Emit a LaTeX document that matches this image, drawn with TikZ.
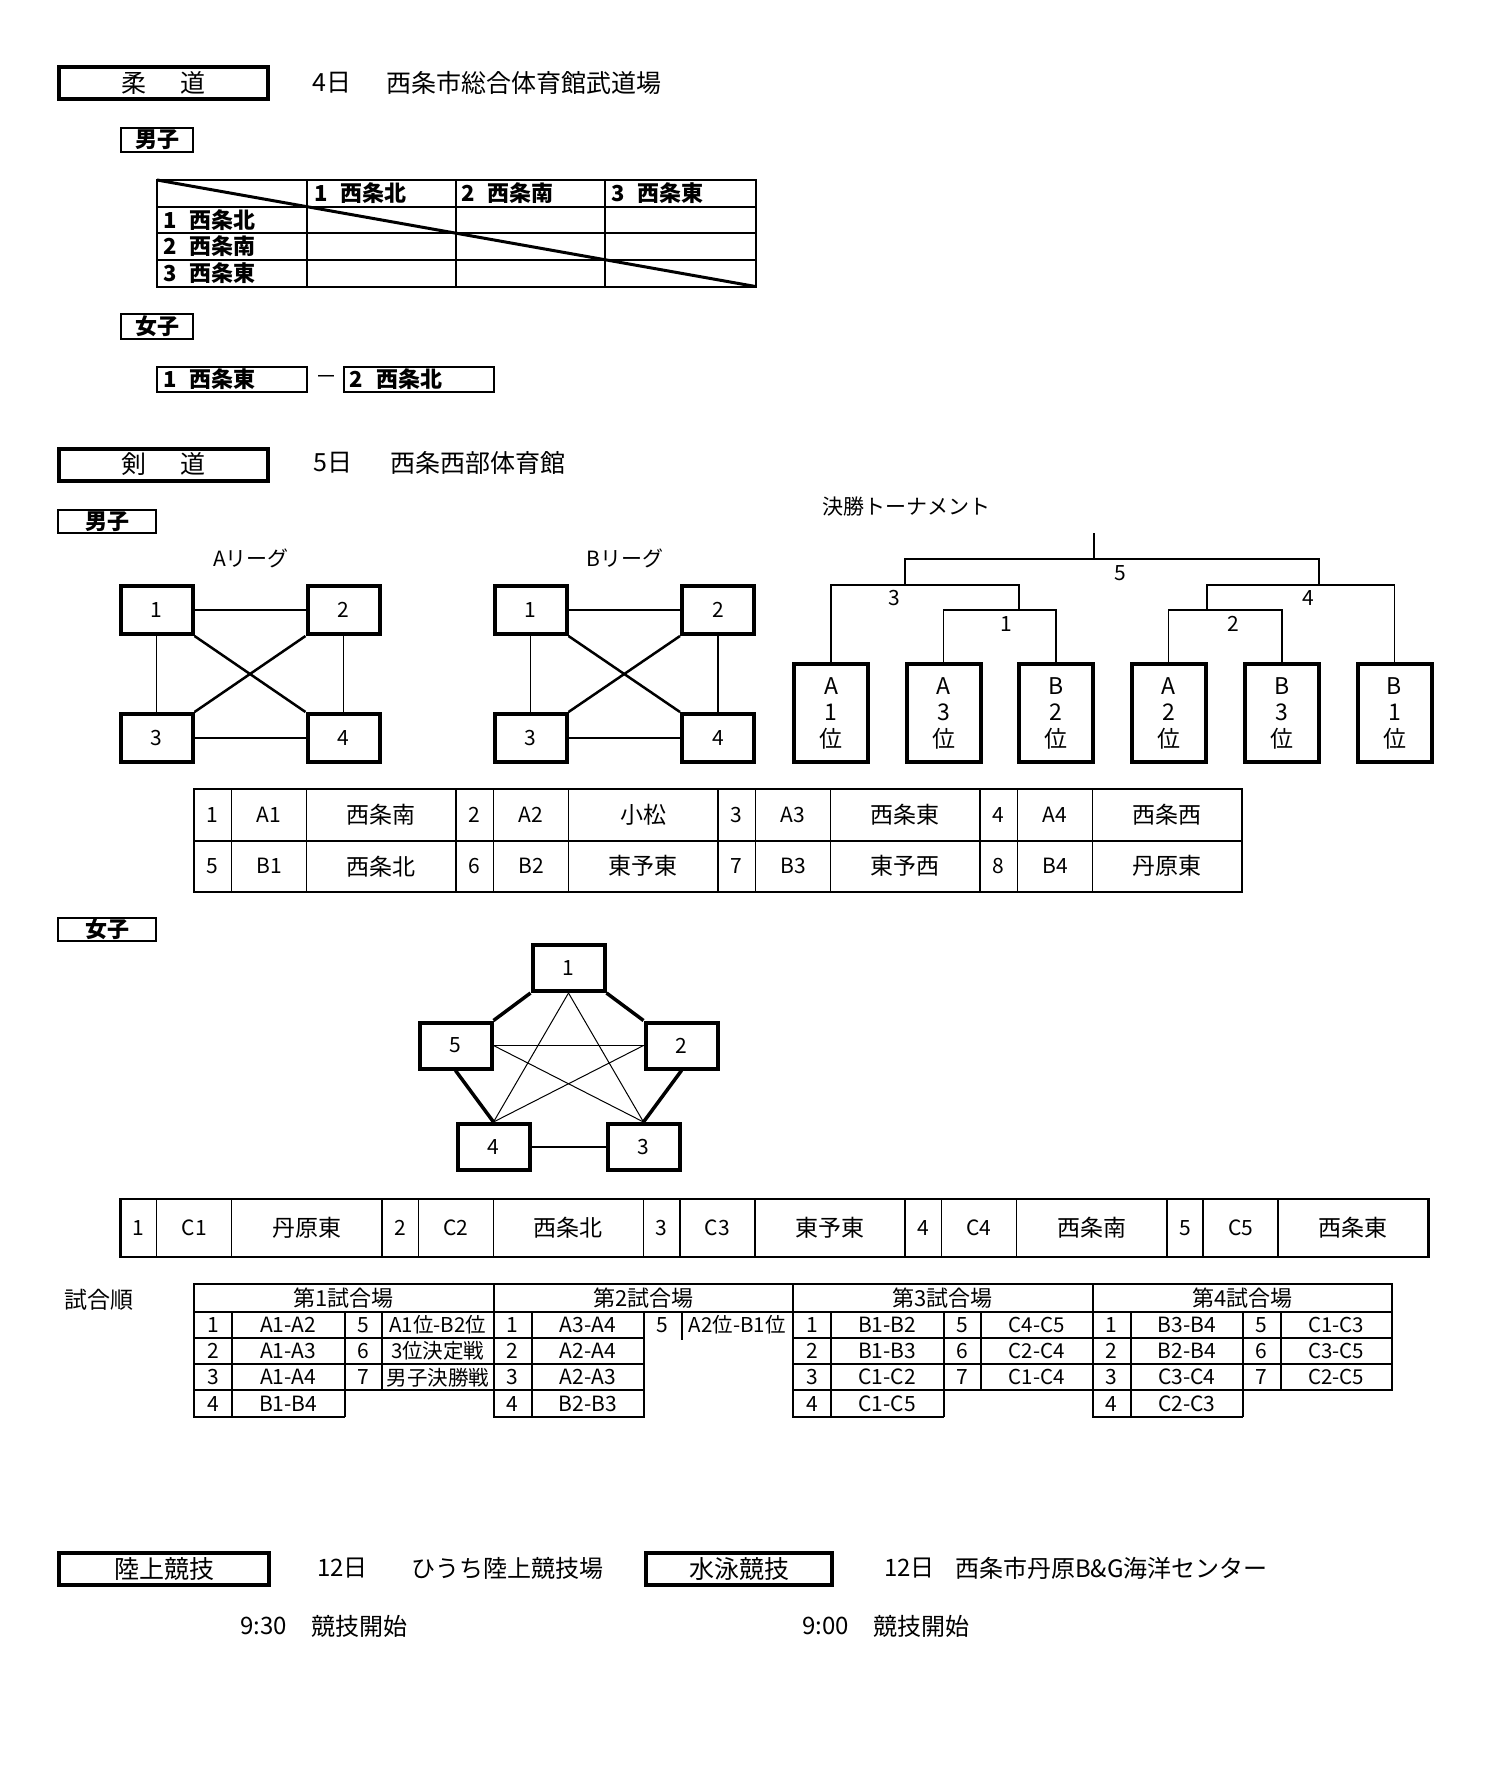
\documentclass[tikz,border=0pt]{standalone}
\usepackage{fontspec}
\setmainfont{Noto Sans CJK JP}
\newcommand\fsz[1]{\fontsize{#1}{#1}\selectfont}
\begin{document}
\begin{tikzpicture}[x=1pt,y=-1pt,
 titlebox/.style={draw,line width=4pt,inner sep=0pt,minimum height=32pt,font=\fsz{25}},
 labelbox/.style={draw,line width=2pt,inner sep=0pt,font=\fsz{22}\bfseries},
 namebox/.style={draw,line width=2pt,inner ysep=0pt,inner xsep=6pt,text width=138pt,align=left,minimum height=25pt,font=\fsz{22}\bfseries},
 lbl/.style={inner sep=0pt},
 teambox/.style={draw,line width=4pt,inner sep=0pt,minimum width=72pt,minimum height=48pt,font=\fsz{21}},
 seedbox/.style={draw,line width=4pt,inner sep=0pt,minimum width=74pt,minimum height=98pt,align=center,font=\fontsize{23}{26.5}\selectfont},
 pentbox/.style={draw,line width=4pt,inner sep=0pt,minimum width=72pt,minimum height=46pt,font=\fsz{21}},
 link/.style={line width=1.5pt},
 cross/.style={line width=2.5pt},
 bracket/.style={line width=1.8pt},
 grid/.style={line width=2pt},
 thinrule/.style={line width=1.5pt},
 outer/.style={line width=2.5pt},
 cell/.style={inner sep=0pt,font=\fsz{21}},
 jcell/.style={inner sep=0pt,anchor=west,font=\fsz{22}\bfseries},
 heavy/.style={line width=3.5pt},
 hair/.style={line width=1pt}
]
\fill[white] (0,0) rectangle (1484,1780);
\useasboundingbox (0,0) rectangle (1484,1780);

% ---------------- Judo ----------------
\node[titlebox,minimum width=209pt] (judo) at (163.5,83) {柔\hspace{34pt}道};
\node[lbl,anchor=west,font=\fsz{25}] (judoday) at (312,83) {4日};
\node[lbl,anchor=west,font=\fsz{25}] (judoplace) at (386,83) {西条市総合体育館武道場};
\node[labelbox,minimum width=72pt,minimum height=24pt] (jmen) at (157,140) {男子};

\draw[grid] (157,180) rectangle (755.5,286.5);
\foreach \xx in {307,455.5,605} \draw[grid] (\xx,180) -- (\xx,286.5);
\foreach \yy in {206.7,232.7,260} \draw[grid] (157,\yy) -- (755.5,\yy);
\draw[line width=3pt] (157,180) -- (755.5,286.5);
\node[jcell] (jh1) at (314,193.3) {1\hspace{.6em}西条北};
\node[jcell] (jh2) at (461,193.3) {2\hspace{.6em}西条南};
\node[jcell] (jh3) at (611,193.3) {3\hspace{.6em}西条東};
\node[jcell] (jr1) at (163,219.7) {1\hspace{.6em}西条北};
\node[jcell] (jr2) at (163,246.3) {2\hspace{.6em}西条南};
\node[jcell] (jr3) at (163,273.2) {3\hspace{.6em}西条東};

\node[labelbox,minimum width=72pt,minimum height=25pt] (jwomen) at (157,326.5) {女子};
\node[namebox] (jw1) at (232,379.5) {1\hspace{.6em}西条東};
\node[namebox] (jw2) at (418.5,379.5) {2\hspace{.6em}西条北};
\node[lbl,font=\fsz{22}] (jdash) at (326.5,379.5) {－};

% ---------------- Kendo ----------------
\node[titlebox,minimum width=209pt] (kendo) at (163.5,464.5) {剣\hspace{34pt}道};
\node[lbl,anchor=west,font=\fsz{25}] (kday) at (313,463) {5日};
\node[lbl,anchor=west,font=\fsz{25}] (kplace) at (390,463) {西条西部体育館};
\node[labelbox,minimum width=98pt,minimum height=23pt] (kmen) at (107,521.5) {男子};

\node[lbl,font=\fsz{21}] (aleague) at (251,558) {Aリーグ};
\node[lbl,font=\fsz{21}] (bleague) at (625,558) {Bリーグ};
\node[teambox] (a1) at (156.5,610) {1};
\node[teambox] (a2) at (343.5,610) {2};
\node[teambox] (a3) at (156.5,738) {3};
\node[teambox] (a4) at (343.5,738) {4};
\node[teambox] (b1) at (530.5,610) {1};
\node[teambox] (b2) at (718,610) {2};
\node[teambox] (b3) at (530.5,738) {3};
\node[teambox] (b4) at (718,738) {4};
\foreach \lg in {a,b}{
 \draw[link] (\lg1) -- (\lg2);
 \draw[link] (\lg1) -- (\lg3);
 \draw[link] (\lg2) -- (\lg4);
 \draw[link] (\lg3) -- (\lg4);
 \draw[cross] (\lg1.south east) -- (\lg4.north west);
 \draw[cross] (\lg2.south west) -- (\lg3.north east);
}

% tournament
\node[lbl,font=\fsz{21}] (final) at (906.5,507) {決勝トーナメント};
\node[seedbox] (s1) at (831,713) {A\\1\\位};
\node[seedbox] (s2) at (943.5,713) {A\\3\\位};
\node[seedbox] (s3) at (1056,713) {B\\2\\位};
\node[seedbox] (s4) at (1168.5,713) {A\\2\\位};
\node[seedbox] (s5) at (1282,713) {B\\3\\位};
\node[seedbox] (s6) at (1394.5,713) {B\\1\\位};
\coordinate (hA) at (0,610);
\coordinate (hB) at (0,585);
\coordinate (hC) at (0,559);
\coordinate (w1) at (1019,610);
\coordinate (w2) at (1207,610);
\coordinate (w3) at (905,585);
\coordinate (w4) at (1319,585);
\coordinate (w5) at (1094,559);
\coordinate (wtop) at (1094,533);
\draw[bracket] (s2.north) -- (s2.north |- hA) -- (s3.north |- hA) -- (s3.north);
\draw[bracket] (s4.north) -- (s4.north |- hA) -- (s5.north |- hA) -- (s5.north);
\draw[bracket] (s1.north) -- (s1.north |- hB) -- (w1 |- hB) -- (w1);
\draw[bracket] (w2) -- (w2 |- hB) -- (s6.north |- hB) -- (s6.north);
\draw[bracket] (w3) -- (w3 |- hC) -- (w4 |- hC) -- (w4);
\draw[bracket] (w5) -- (wtop);
\node[lbl,font=\fsz{21}] (g1) at (1006.5,624) {1};
\node[lbl,font=\fsz{21}] (g2) at (1233,624) {2};
\node[lbl,font=\fsz{21}] (g3) at (894.5,598) {3};
\node[lbl,font=\fsz{21}] (g4) at (1308,598) {4};
\node[lbl,font=\fsz{21}] (g5) at (1120,573) {5};

% men team table
\draw[outer] (194,789) rectangle (1242,892);
\draw[grid] (194,840.5) -- (1242,840.5);
\foreach \gi/\na/\ca/\ta/\nb/\cb/\tb in {0/1/A1/西条南/5/B1/西条北, 1/2/A2/小松/6/B2/東予東, 2/3/A3/西条東/7/B3/東予西, 3/4/A4/西条西/8/B4/丹原東}{
 \pgfmathsetmacro\sx{194+262*\gi}
 \draw[thinrule] (\sx,789) -- (\sx,892) (\sx+37.6,789) -- (\sx+37.6,892) (\sx+112.6,789) -- (\sx+112.6,892);
 \node[cell] (kn\na) at (\sx+18.8,814.75) {\na};
 \node[cell] (kc\na) at (\sx+75.1,814.75) {\ca};
 \node[cell,font=\fsz{23}] (kt\na) at (\sx+187.3,814.75) {\ta};
 \node[cell] (kn\nb) at (\sx+18.8,866.25) {\nb};
 \node[cell] (kc\nb) at (\sx+75.1,866.25) {\cb};
 \node[cell,font=\fsz{23}] (kt\nb) at (\sx+187.3,866.25) {\tb};
}

% women
\node[labelbox,minimum width=98pt,minimum height=23pt] (kwomen) at (107,929.5) {女子};
\node[pentbox] (p1) at (568.5,968) {1};
\node[pentbox] (p5) at (455.5,1045.5) {5};
\node[pentbox] (p2) at (681.5,1045.5) {2};
\node[pentbox] (p4) at (493.5,1147) {4};
\node[pentbox] (p3) at (643.5,1147) {3};
\draw[heavy] (p1.south west) -- (p5.north east);
\draw[heavy] (p1.south east) -- (p2.north west);
\draw[heavy] (p5.south) -- (p4.north);
\draw[heavy] (p2.south) -- (p3.north);
\draw[grid] (p4) -- (p3);
\draw[hair] (p1.south) -- (p4.north);
\draw[hair] (p1.south) -- (p3.north);
\draw[hair] (p5.east) -- (p2.west);
\draw[hair] (p5.east) -- (p3.north);
\draw[hair] (p2.west) -- (p4.north);

\draw[outer] (120.4,1199) rectangle (1428.4,1257);
\foreach \gi/\nm/\cd/\tn in {0/1/C1/丹原東,1/2/C2/西条北,2/3/C3/東予東,3/4/C4/西条南,4/5/C5/西条東}{
 \pgfmathsetmacro\sx{120.4+261.6*\gi}
 \draw[thinrule] (\sx,1199) -- (\sx,1257) (\sx+36.3,1199) -- (\sx+36.3,1257) (\sx+111.3,1199) -- (\sx+111.3,1257);
 \node[cell] (wn\nm) at (\sx+18.15,1228) {\nm};
 \node[cell] (wc\nm) at (\sx+73.8,1228) {\cd};
 \node[cell,font=\fsz{23}] (wt\nm) at (\sx+186.45,1228) {\tn};
}

% match order
\node[lbl,font=\fsz{23}] (order) at (99,1300) {試合順};
\foreach \vn in {0,2,3}{
 \pgfmathsetmacro\bx{194+299.5*\vn}
 \draw[grid] (\bx,1284) rectangle (\bx+299.5,1390.4);
 \draw[grid] (\bx,1311.5) -- (\bx+299.5,1311.5) (\bx,1337.8) -- (\bx+299.5,1337.8) (\bx,1364.1) -- (\bx+299.5,1364.1);
 \draw[grid] (\bx+38,1311.5) -- (\bx+38,1416.7) (\bx+150.5,1311.5) -- (\bx+150.5,1416.7) (\bx+188,1311.5) -- (\bx+188,1390.4);
 \draw[grid] (\bx,1390.4) -- (\bx,1416.7) -- (\bx+150.5,1416.7);
}
\draw[grid] (493.5,1284) rectangle (793,1311.5);
\draw[grid] (493.5,1311.5) rectangle (644,1416.7);
\draw[grid] (493.5,1337.8) -- (644,1337.8) (493.5,1364.1) -- (644,1364.1) (493.5,1390.4) -- (644,1390.4);
\draw[grid] (531.5,1311.5) -- (531.5,1416.7);
\draw[grid] (681.5,1311.5) -- (681.5,1340);
\foreach \vn in {0,1,2,3}{
 \pgfmathsetmacro\bx{194+299.5*\vn}
 \pgfmathtruncatemacro\hn{\vn+1}
 \node[lbl,font=\fsz{22}] (hd\vn) at (\bx+149.75,1297.75) {第\hn 試合場};
}
\foreach \vn/\rw/\mt in {0/1/A1-A2,0/2/A1-A3,0/3/A1-A4,0/4/B1-B4,1/1/A3-A4,1/2/A2-A4,1/3/A2-A3,1/4/B2-B3,2/1/B1-B2,2/2/B1-B3,2/3/C1-C2,2/4/C1-C5,3/1/B3-B4,3/2/B2-B4,3/3/C3-C4,3/4/C2-C3}{
 \pgfmathsetmacro\bx{194+299.5*\vn}
 \node[cell] (ln\vn\rw) at (\bx+19,1298.35+26.3*\rw) {\rw};
 \node[cell] (lm\vn\rw) at (\bx+94.25,1298.35+26.3*\rw) {\mt};
}
\foreach \vn/\rw/\nm/\mt in {0/1/5/A1位-B2位,0/2/6/3位決定戦,0/3/7/男子決勝戦,1/1/5/A2位-B1位,2/1/5/C4-C5,2/2/6/C2-C4,2/3/7/C1-C4,3/1/5/C1-C3,3/2/6/C3-C5,3/3/7/C2-C5}{
 \pgfmathsetmacro\bx{194+299.5*\vn}
 \node[cell] (rn\vn\rw) at (\bx+169.25,1298.35+26.3*\rw) {\nm};
 \node[cell,font=\fsz{20.5}] (rm\vn\rw) at (\bx+243.75,1298.35+26.3*\rw) {\mt};
}

% ---------------- athletics / swimming ----------------
\node[titlebox,minimum width=210pt] (riku) at (164,1569) {陸上競技};
\node[lbl,anchor=west,font=\fsz{24}] (rday) at (317,1568) {12日};
\node[lbl,anchor=west,font=\fsz{24}] (rplace) at (411,1568) {ひうち陸上競技場};
\node[titlebox,minimum width=186pt] (sui) at (739,1569) {水泳競技};
\node[lbl,anchor=west,font=\fsz{24}] (sday) at (884,1568) {12日};
\node[lbl,anchor=west,font=\fsz{24}] (splace) at (955,1568) {西条市丹原B\&G海洋センター};
\node[lbl,anchor=west,font=\fsz{24}] (rtime) at (240,1626) {9:30};
\node[lbl,anchor=west,font=\fsz{24}] (rstart) at (311,1626) {競技開始};
\node[lbl,anchor=west,font=\fsz{24}] (stime) at (802,1626) {9:00};
\node[lbl,anchor=west,font=\fsz{24}] (sstart) at (873,1626) {競技開始};
\end{tikzpicture}
\end{document}
